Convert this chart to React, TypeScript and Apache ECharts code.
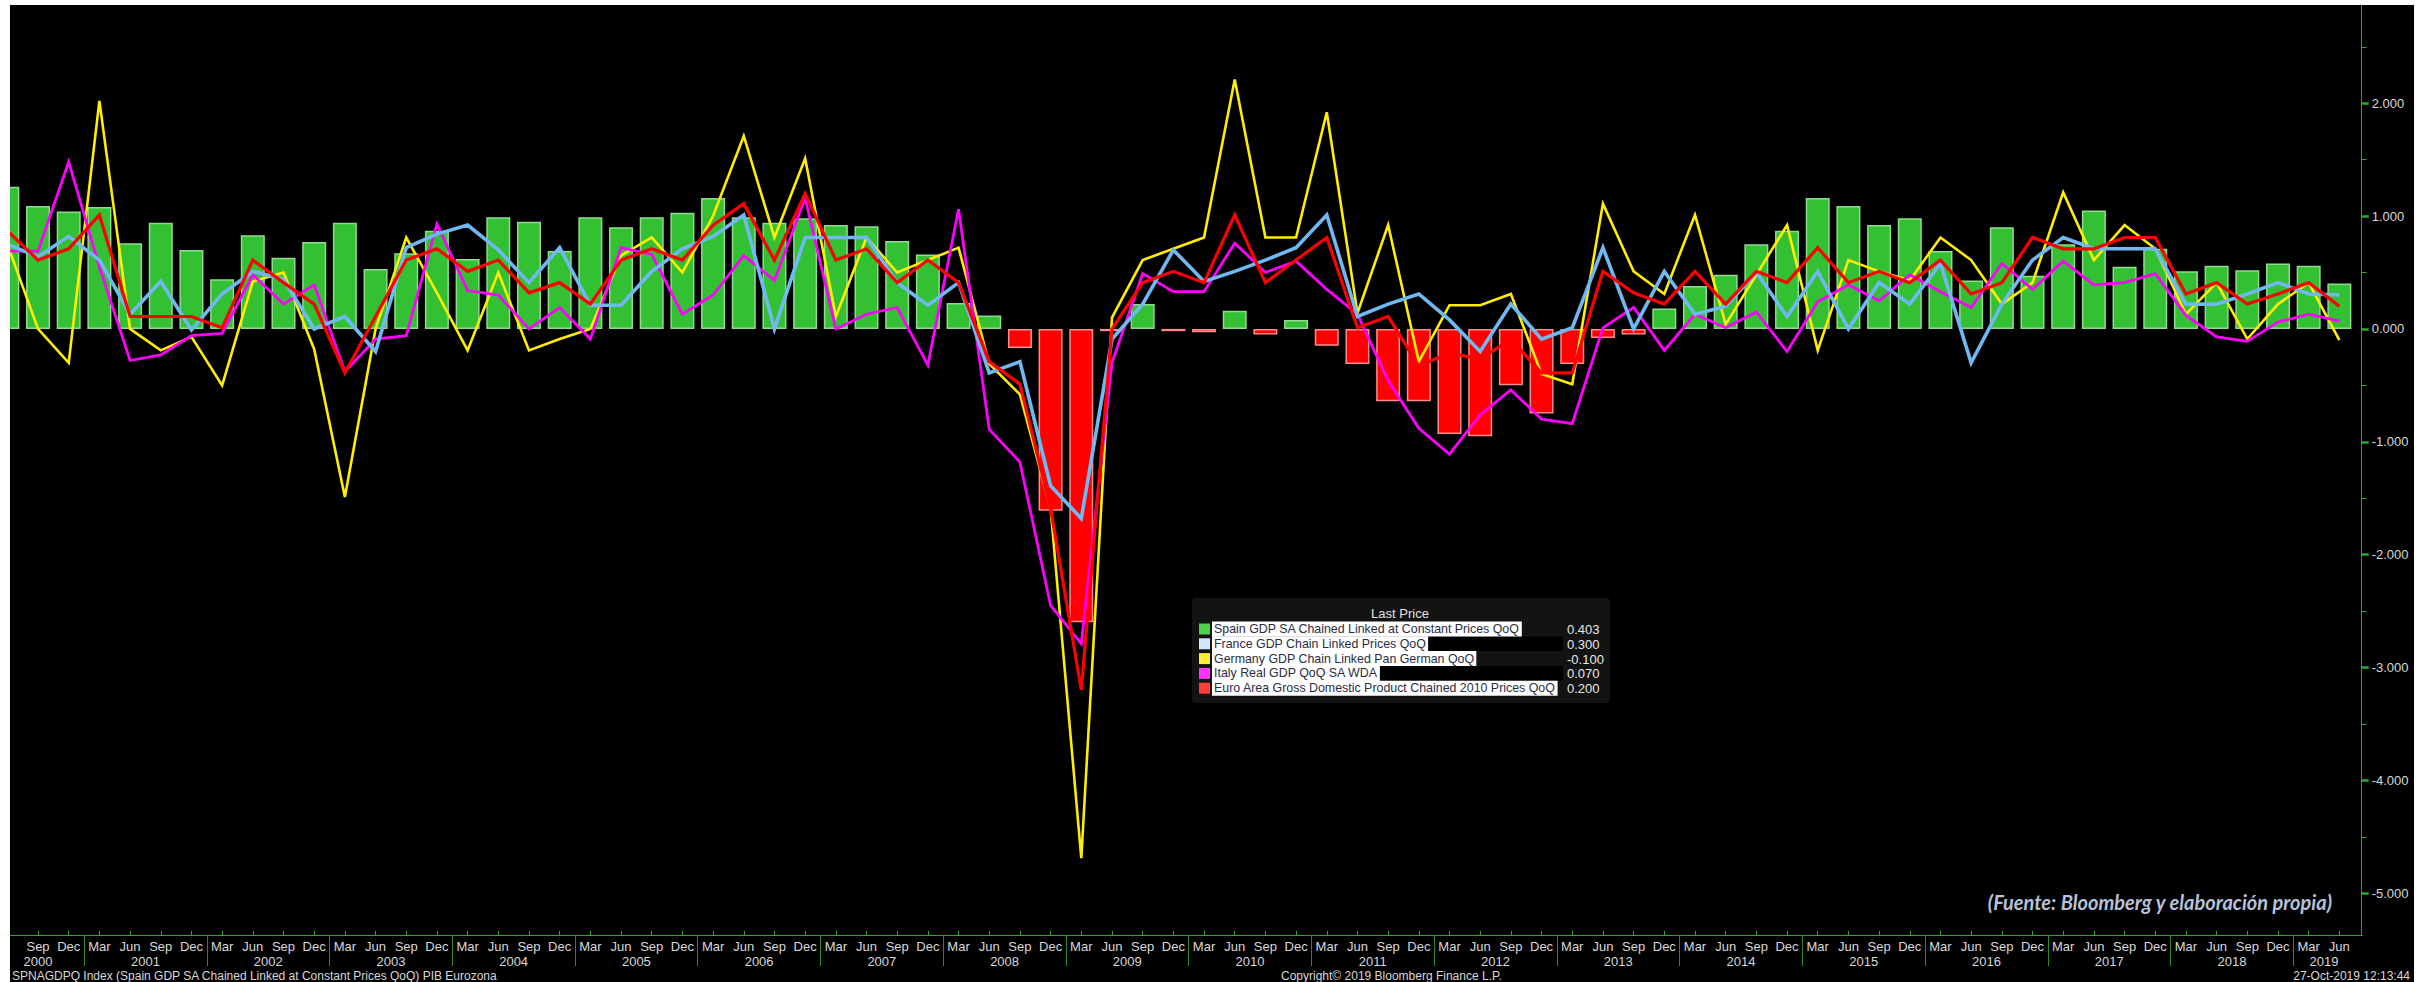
import React, { useEffect, useRef } from "react";
import * as echarts from "echarts";

const categories: string[] = [
  "Jun 2000", "Sep 2000", "Dec 2000",
  "Mar 2001", "Jun 2001", "Sep 2001", "Dec 2001",
  "Mar 2002", "Jun 2002", "Sep 2002", "Dec 2002",
  "Mar 2003", "Jun 2003", "Sep 2003", "Dec 2003",
  "Mar 2004", "Jun 2004", "Sep 2004", "Dec 2004",
  "Mar 2005", "Jun 2005", "Sep 2005", "Dec 2005",
  "Mar 2006", "Jun 2006", "Sep 2006", "Dec 2006",
  "Mar 2007", "Jun 2007", "Sep 2007", "Dec 2007",
  "Mar 2008", "Jun 2008", "Sep 2008", "Dec 2008",
  "Mar 2009", "Jun 2009", "Sep 2009", "Dec 2009",
  "Mar 2010", "Jun 2010", "Sep 2010", "Dec 2010",
  "Mar 2011", "Jun 2011", "Sep 2011", "Dec 2011",
  "Mar 2012", "Jun 2012", "Sep 2012", "Dec 2012",
  "Mar 2013", "Jun 2013", "Sep 2013", "Dec 2013",
  "Mar 2014", "Jun 2014", "Sep 2014", "Dec 2014",
  "Mar 2015", "Jun 2015", "Sep 2015", "Dec 2015",
  "Mar 2016", "Jun 2016", "Sep 2016", "Dec 2016",
  "Mar 2017", "Jun 2017", "Sep 2017", "Dec 2017",
  "Mar 2018", "Jun 2018", "Sep 2018", "Dec 2018",
  "Mar 2019", "Jun 2019",
];

const spain: number[] = [
  1.26, 1.09, 1.04,
  1.08, 0.76, 0.94, 0.70,
  0.44, 0.83, 0.63, 0.77,
  0.94, 0.53, 0.67, 0.87,
  0.62, 0.99, 0.95, 0.69,
  0.99, 0.90, 0.99, 1.03,
  1.16, 0.99, 0.94, 0.98,
  0.92, 0.91, 0.78, 0.66,
  0.23, 0.12, -0.17, -1.61,
  -2.60, -0.02, 0.22, -0.02,
  -0.03, 0.16, -0.05, 0.08,
  -0.15, -0.31, -0.64, -0.64,
  -0.93, -0.95, -0.50, -0.75,
  -0.31, -0.08, -0.05, 0.18,
  0.38, 0.48, 0.75, 0.87,
  1.16, 1.09, 0.92, 0.98,
  0.69, 0.43, 0.90, 0.47,
  0.75, 1.05, 0.55, 0.71,
  0.51, 0.56, 0.52, 0.58,
  0.56, 0.403,
];

const france: number[] = [
  0.75, 0.64, 0.82,
  0.61, 0.13, 0.42, -0.01,
  0.31, 0.51, 0.44, 0.00,
  0.11, -0.20, 0.72, 0.84,
  0.92, 0.70, 0.41, 0.72,
  0.21, 0.21, 0.51, 0.71,
  0.82, 1.01, 0.00, 0.81,
  0.81, 0.81, 0.41, 0.21,
  0.41, -0.39, -0.29, -1.39,
  -1.68, -0.09, 0.22, 0.70,
  0.42, 0.51, 0.61, 0.72,
  1.01, 0.11, 0.22, 0.31,
  0.08, -0.20, 0.22, -0.09,
  0.01, 0.72, 0.00, 0.51,
  0.13, 0.20, 0.50, 0.11,
  0.51, 0.00, 0.41, 0.22,
  0.58, -0.30, 0.22, 0.61,
  0.81, 0.71, 0.71, 0.71,
  0.22, 0.22, 0.31, 0.41,
  0.31, 0.30,
];

const germany: number[] = [
  0.75, 0.00, -0.30,
  2.02, 0.00, -0.19, -0.07,
  -0.50, 0.42, 0.50, -0.18,
  -1.49, 0.00, 0.81, 0.32,
  -0.19, 0.50, -0.19, -0.09,
  0.00, 0.65, 0.81, 0.50,
  1.00, 1.71, 0.81, 1.51,
  0.11, 0.81, 0.50, 0.61,
  0.72, -0.31, -0.58, -1.59,
  -4.69, 0.10, 0.61, 0.71,
  0.81, 2.21, 0.81, 0.81,
  1.92, 0.14, 0.92, -0.29,
  0.21, 0.21, 0.31, -0.40,
  -0.49, 1.11, 0.51, 0.31,
  1.01, 0.04, 0.48, 0.92,
  -0.19, 0.61, 0.51, 0.43,
  0.81, 0.61, 0.22, 0.41,
  1.21, 0.61, 0.92, 0.71,
  0.13, 0.41, -0.09, 0.22,
  0.41, -0.10,
];

const italy: number[] = [
  0.69, 0.69, 1.48,
  0.55, -0.28, -0.23, -0.06,
  -0.04, 0.48, 0.22, 0.39,
  -0.38, -0.09, -0.06, 0.93,
  0.34, 0.30, 0.00, 0.19,
  -0.09, 0.72, 0.66, 0.13,
  0.30, 0.65, 0.43, 1.16,
  0.00, 0.13, 0.19, -0.32,
  1.06, -0.89, -1.18, -2.45,
  -2.79, -0.30, 0.49, 0.33,
  0.33, 0.76, 0.50, 0.60,
  0.35, 0.13, -0.46, -0.88,
  -1.11, -0.76, -0.54, -0.80,
  -0.84, 0.01, 0.19, -0.19,
  0.13, 0.01, 0.15, -0.20,
  0.24, 0.39, 0.25, 0.48,
  0.33, 0.19, 0.58, 0.35,
  0.60, 0.39, 0.41, 0.49,
  0.12, -0.07, -0.11, 0.06,
  0.13, 0.07,
];

const euroArea: number[] = [
  0.87, 0.61, 0.71,
  1.01, 0.11, 0.11, 0.11,
  0.01, 0.61, 0.41, 0.22,
  -0.39, 0.11, 0.61, 0.71,
  0.51, 0.61, 0.32, 0.41,
  0.22, 0.61, 0.71, 0.61,
  0.92, 1.11, 0.61, 1.20,
  0.61, 0.71, 0.41, 0.61,
  0.41, -0.29, -0.49, -1.59,
  -3.20, 0.00, 0.41, 0.51,
  0.41, 1.01, 0.41, 0.61,
  0.81, 0.01, 0.11, -0.33,
  -0.21, -0.27, -0.09, -0.39,
  -0.39, 0.51, 0.32, 0.22,
  0.51, 0.22, 0.51, 0.41,
  0.72, 0.41, 0.51, 0.41,
  0.61, 0.31, 0.41, 0.81,
  0.71, 0.71, 0.81, 0.81,
  0.31, 0.41, 0.22, 0.31,
  0.41, 0.20,
];

const seriesNames: string[] = [
  "Spain GDP SA Chained Linked at Constant Prices QoQ",
  "France GDP Chain Linked Prices QoQ",
  "Germany GDP Chain Linked Pan German QoQ",
  "Italy Real GDP QoQ SA WDA",
  "Euro Area Gross Domestic Product Chained 2010 Prices QoQ",
];
const lastPrices: string[] = ["0.403", "0.300", "-0.100", "0.070", "0.200"];
const legendTitle = "Last Price";

const yTickValues: number[] = [-5, -4, -3, -2, -1, 0, 1, 2];
const yMinorTickValues: number[] = [-4.5, -3.5, -2.5, -1.5, -0.5, 0.5, 1.5, 2.5];

const yearLabels: string[] = [
  "2000", "2001", "2002", "2003", "2004", "2005", "2006", "2007", "2008", "2009",
  "2010", "2011", "2012", "2013", "2014", "2015", "2016", "2017", "2018", "2019",
];
// half-quarter slots for year labels (boundaryGap false, 2 slots per quarter)
const yearSlots: number[] = [
  3, 10, 18, 26, 34, 42, 50, 58, 66, 74,
  82, 90, 98, 106, 114, 122, 130, 138, 146, 152,
];

const footerLeft = "SPNAGDPQ Index (Spain GDP SA Chained Linked at Constant Prices QoQ) PIB Eurozona";
const footerCenter = "Copyright\u00A9 2019 Bloomberg Finance L.P.";
const footerRight = "27-Oct-2019 12:13:44";
const sourceNote = "(Fuente: Bloomberg y elaboraci\u00F3n propia)";

const AXIS_GREEN = "#2fa52f";
const LABEL = "#d8d8d8";
const FONT = "Liberation Sans, Arial, sans-serif";

const lineColors = ["#70b8f2", "#ffee00", "#ff00ff", "#ff0000"];
const legendColors = ["#4cd24c", "#d4e6fa", "#ffee33", "#ff33ff", "#ff3c3c"];

// chart origin sits 11px left of the page; X_SHIFT converts page-based x to chart x
const X_SHIFT = 21;

export default function App() {
  const ref = useRef<HTMLDivElement | null>(null);

  useEffect(() => {
    if (!ref.current) return;
    const chart = echarts.init(ref.current, undefined, { renderer: "svg" });

    const slotCount = categories.length * 2 + 1;
    const yearAxisData: string[] = [];
    for (let k = 0; k < slotCount; k++) yearAxisData.push("");
    yearLabels.forEach((y, i) => {
      yearAxisData[yearSlots[i]] = y;
    });

    const barData = spain.map((v) => ({
      value: v,
      itemStyle:
        v >= 0
          ? { color: "#33c033", borderColor: "#8fdc8f", borderWidth: 1.5 }
          : { color: "#ff0000", borderColor: "#ff8a8a", borderWidth: 1.5 },
    }));

    const mkLine = (name: string, data: number[], color: string, width: number, z: number) => ({
      name,
      type: "line",
      data,
      xAxisIndex: 0,
      yAxisIndex: 0,
      showSymbol: false,
      symbol: "none",
      z,
      lineStyle: { color, width, join: "miter", miterLimit: 5 },
      emphasis: { disabled: true },
    });

    const X = (x: number) => x + X_SHIFT;

    // legend graphics
    const legendX = 1182;
    const legendY = 593;
    const rowY0 = 624;
    const rowDy = 14.8;
    const redactStart = 1330;
    const redactEnd = 1553;
    const legendEls: any[] = [
      {
        type: "rect",
        shape: { x: X(legendX), y: legendY, width: 418, height: 105, r: 4 },
        style: { fill: "#131313" },
        z: 100,
      },
      {
        type: "text",
        x: X(1390),
        y: 608,
        style: {
          text: legendTitle,
          fill: "#e2e2e2",
          font: "13px " + FONT,
          align: "center",
          verticalAlign: "middle",
        },
        z: 101,
      },
    ];
    seriesNames.forEach((name, i) => {
      const yc = rowY0 + i * rowDy;
      legendEls.push({
        type: "rect",
        shape: { x: X(1189), y: yc - 5.5, width: 11, height: 11 },
        style: { fill: legendColors[i] },
        z: 101,
      });
      if (i === 1 || i === 3) {
        legendEls.push({
          type: "rect",
          shape: { x: X(redactStart), y: yc - 7.2, width: redactEnd - redactStart, height: 14.4 },
          style: { fill: "#000000" },
          z: 101,
        });
      }
      legendEls.push({
        type: "text",
        x: X(1202),
        y: yc,
        style: {
          text: name,
          fill: "#2c2c44",
          font: "12.4px " + FONT,
          lineHeight: 13,
          align: "left",
          verticalAlign: "middle",
          backgroundColor: "#ffffff",
          padding: [1, 2, 1, 2],
        },
        z: 102,
      });
      legendEls.push({
        type: "text",
        x: X(1557),
        y: yc + 0.5,
        style: {
          text: lastPrices[i],
          fill: "#e8e8e8",
          font: "13px " + FONT,
          align: "left",
          verticalAlign: "middle",
        },
        z: 102,
      });
    });

    const option: any = {
      animation: false,
      backgroundColor: "#000000",
      grid: { left: 0, right: 59.3, top: 0, bottom: 47, containLabel: false },
      xAxis: [
        {
          type: "category",
          data: categories,
          position: "bottom",
          boundaryGap: true,
          axisLine: { show: true, onZero: false, lineStyle: { color: AXIS_GREEN, width: 1 } },
          axisTick: {
            show: true,
            inside: true,
            length: 4,
            alignWithLabel: true,
            interval: 0,
            lineStyle: { color: AXIS_GREEN },
          },
          axisLabel: {
            interval: (i: number) => i > 0,
            formatter: (v: string) => v.split(" ")[0],
            color: LABEL,
            fontSize: 13,
            fontFamily: FONT,
            margin: 5,
          },
          splitLine: { show: false },
        },
        {
          type: "category",
          data: yearAxisData,
          position: "bottom",
          boundaryGap: false,
          axisLine: { show: false, onZero: false },
          axisTick: {
            show: true,
            interval: (i: number) => i >= 6 && (i - 6) % 8 === 0,
            length: 31,
            lineStyle: { color: "#2a8a2a" },
          },
          axisLabel: {
            interval: 0,
            color: LABEL,
            fontSize: 13,
            fontFamily: FONT,
            margin: 20,
          },
          splitLine: { show: false },
        },
      ],
      yAxis: [
        {
          type: "value",
          position: "right",
          offset: 7,
          min: -5.37,
          max: 2.87,
          axisLine: { show: true, lineStyle: { color: AXIS_GREEN, width: 1 } },
          axisTick: {
            show: true,
            customValues: yTickValues,
            length: 7,
            lineStyle: { color: AXIS_GREEN, width: 2.5 },
          },
          axisLabel: {
            customValues: yTickValues,
            formatter: (v: number) => v.toFixed(3),
            color: LABEL,
            fontSize: 13,
            fontFamily: FONT,
            margin: 10,
          },
          splitLine: { show: false },
        },
        {
          type: "value",
          position: "right",
          offset: 7,
          min: -5.37,
          max: 2.87,
          axisLine: { show: false },
          axisTick: {
            show: true,
            customValues: yMinorTickValues,
            length: 5,
            lineStyle: { color: AXIS_GREEN, width: 1 },
          },
          axisLabel: { show: false },
          splitLine: { show: false },
        },
      ],
      series: [
        {
          name: seriesNames[0],
          type: "bar",
          data: barData,
          xAxisIndex: 0,
          yAxisIndex: 0,
          barWidth: 24,
          z: 2,
          emphasis: { disabled: true },
        },
        mkLine(seriesNames[2], germany, lineColors[1], 2.6, 3),
        mkLine(seriesNames[3], italy, lineColors[2], 2.8, 4),
        mkLine(seriesNames[1], france, lineColors[0], 3.6, 5),
        mkLine(seriesNames[4], euroArea, lineColors[3], 3.2, 6),
      ],
      graphic: [
        {
          type: "line",
          shape: { x1: X(2344), y1: 930.5, x2: X(2352.5), y2: 930.5 },
          style: { stroke: AXIS_GREEN, lineWidth: 1 },
          z: 50,
        },
        {
          type: "text",
          x: X(2322),
          y: 897,
          style: {
            text: sourceNote,
            fill: "#b6c2da",
            font: "italic bold 20px Lato, 'Open Sans', sans-serif",
            align: "right",
            verticalAlign: "middle",
          },
          z: 60,
        },
        {
          type: "text",
          x: X(2),
          y: 971,
          style: {
            text: footerLeft,
            fill: LABEL,
            font: "12px " + FONT,
            align: "left",
            verticalAlign: "middle",
          },
        },
        {
          type: "text",
          x: X(1271),
          y: 971,
          style: {
            text: footerCenter,
            fill: LABEL,
            font: "12px " + FONT,
            align: "left",
            verticalAlign: "middle",
          },
        },
        {
          type: "text",
          x: X(2400),
          y: 971,
          style: {
            text: footerRight,
            fill: LABEL,
            font: "12px " + FONT,
            align: "right",
            verticalAlign: "middle",
          },
        },
        ...legendEls,
      ],
    };

    chart.setOption(option);
    return () => {
      chart.dispose();
    };
  }, []);

  return (
    <>
      <div
        ref={ref}
        style={{ position: "absolute", left: -11, top: 5, width: 2425, height: 977 }}
      />
      <div
        style={{
          position: "absolute",
          left: 0,
          top: 0,
          width: 10,
          height: 982,
          background: "#ffffff",
          zIndex: 10,
        }}
      />
    </>
  );
}
